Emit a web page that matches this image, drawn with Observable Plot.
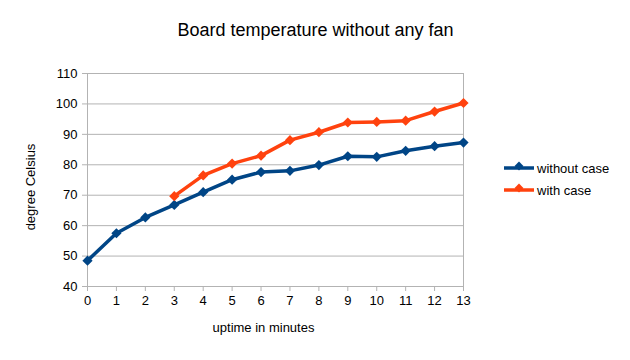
<!DOCTYPE html>
<html><head><meta charset="utf-8">
<script src="https://cdn.jsdelivr.net/npm/d3@7"></script>
<script src="https://cdn.jsdelivr.net/npm/@observablehq/plot@0.6"></script>
<style>body{margin:0;background:#fff;font-family:"Liberation Sans",Arial,sans-serif}</style>
</head><body><div id="chart"></div>
<script>
const minutes = [0,1,2,3,4,5,6,7,8,9,10,11,12,13];
const withoutCase = [48.5,57.5,62.7,66.8,71.0,75.1,77.6,78.0,79.9,82.8,82.6,84.6,86.1,87.3];
const withCaseMinutes = [3,4,5,6,7,8,9,10,11,12,13];
const withCase = [69.7,76.5,80.4,83.0,88.1,90.7,93.9,94.1,94.5,97.5,100.3];
const yTicks = [40,50,60,70,80,90,100,110];
const seriesNames = ["without case","with case"];
const colors = ["#004586","#ff420e"];

const data = [
  ...minutes.map((m,i)=>({x:m,y:withoutCase[i],s:seriesNames[0]})),
  ...withCaseMinutes.map((m,i)=>({x:m,y:withCase[i],s:seriesNames[1]}))
];

const plot = Plot.plot({
  width:630, height:360,
  marginLeft:87, marginRight:167, marginTop:73, marginBottom:74,
  style:{fontFamily:"Liberation Sans, Arial, sans-serif", fontSize:"13px", color:"#000", background:"#fff"},
  x:{domain:[0,13], ticks:minutes, tickFormat:d=>String(d), label:null},
  y:{domain:[40,110], ticks:yTicks, label:null},
  color:{domain:seriesNames, range:colors},
  marks:[
    Plot.gridY(yTicks,{stroke:"#b3b3b3",strokeOpacity:1}),
    Plot.ruleX([0,13],{stroke:"#b3b3b3",strokeOpacity:1}),
    Plot.axisX({ticks:minutes, tickSize:5, tickPadding:4, stroke:"#b3b3b3", fill:"#000", fontSize:13, tickFormat:d=>String(d), label:null}),
    Plot.axisY({ticks:yTicks, tickSize:5, tickPadding:5, stroke:"#b3b3b3", fill:"#000", fontSize:13, label:null}),
    Plot.line(data,{x:"x",y:"y",z:"s",stroke:"s",strokeWidth:3.5}),
    Plot.dot(data,{x:"x",y:"y",fill:"s",symbol:d3.symbolDiamond2,r:4.6,stroke:"none"}),
    Plot.text(["Board temperature without any fan"],{frameAnchor:"top",dy:-38,dx:40,fontSize:18,fill:"#000",textAnchor:"middle",lineAnchor:"bottom"}),
    Plot.text(["uptime in minutes"],{frameAnchor:"bottom",dy:45,dx:-12,fontSize:13,fill:"#000",textAnchor:"middle"}),
    Plot.text(["degree Celsius"],{frameAnchor:"left",dx:-57,dy:7,rotate:-90,fontSize:13,fill:"#000",textAnchor:"middle"})
  ]
});
document.getElementById("chart").appendChild(plot);

// legend
const svg = d3.select(plot);
const lg = svg.append("g").attr("font-family","Liberation Sans, Arial, sans-serif").attr("font-size",13).attr("text-anchor","start");
seriesNames.forEach((n,i)=>{
  const y = 168 + i*22;
  lg.append("line").attr("x1",504).attr("x2",534).attr("y1",y).attr("y2",y).attr("stroke",colors[i]).attr("stroke-width",3.5);
  lg.append("path").attr("d",d3.symbol(d3.symbolDiamond2,50)()).attr("transform",`translate(519,${y-2})`).attr("fill",colors[i]);
  lg.append("text").attr("x",537).attr("y",y).attr("dy","0.35em").attr("text-anchor","start").text(n).attr("fill","#000");
});
</script></body></html>
